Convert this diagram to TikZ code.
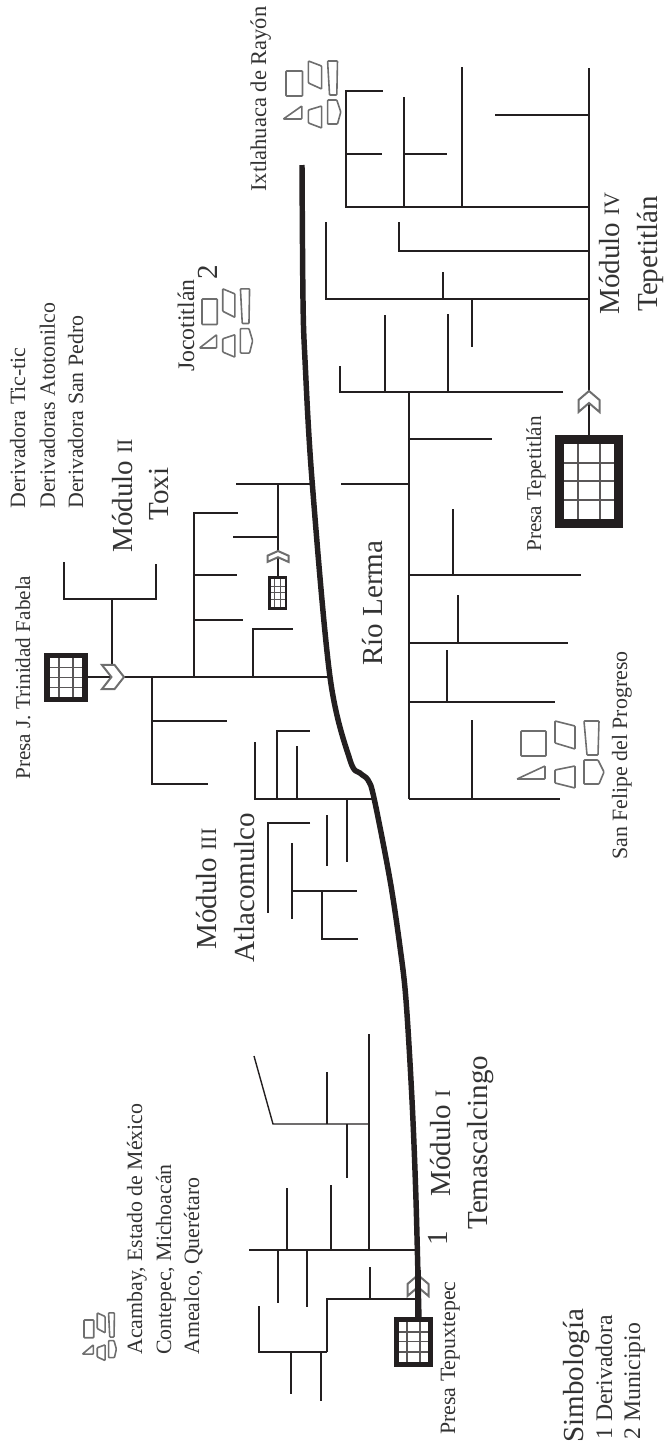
\documentclass[tikz,border=0pt]{standalone}
\usepackage{fontspec}
\setmainfont{Liberation Serif}
\usetikzlibrary{arrows.meta,positioning,calc}
\definecolor{ink}{HTML}{231F20}
\definecolor{tinta}{HTML}{333333}
\definecolor{gris}{HTML}{6E6E6E}
\newcommand{\modnum}[1]{{\fontsize{16.5}{17}\selectfont #1}}
\tikzset{
  rio/.style={draw=ink, line width=4.1pt},
  ramal/.style={draw=ink, line width=1.05pt},
  lbl/.style={anchor=base west, rotate=90, inner sep=0pt, text=tinta,
              font=\fontsize{16.4}{18}\selectfont},
  presalbl/.style={lbl, font=\fontsize{15.9}{18}\selectfont},
  simlbl/.style={lbl, font=\fontsize{17.8}{19}\selectfont},
  modlbl/.style={anchor=base west, rotate=90, inner sep=0pt, text=tinta,
                 font=\fontsize{21.8}{24}\selectfont},
  presa/.pic={
    \fill[ink] (0,0) rectangle (68,93);
    \fill[white] (9,9) rectangle (59,84);
    \foreach \vx in {23,45} \fill[ink!75] (\vx-1.3,9) rectangle (\vx+1.3,84);
    \foreach \vy in {28,46,65} \fill[ink!75] (9,\vy-1.3) rectangle (59,\vy+1.3);
  },
  chevron/.pic={
    \filldraw[fill=white, draw=gris, line width=1.5pt, line join=miter]
      (0,0) -- (10.5,9) -- (10.5,21) -- (0,12) -- (-10.5,21) -- (-10.5,9) -- cycle;
  },
  pueblo/.pic={
    \begin{scope}[draw=gris, line width=1.2pt, rounded corners=.6pt]
    \draw (0,0) rectangle (25,25);
    \draw (-4,48) -- (24,35) -- (24,48) -- cycle;
    \draw (34,-10) -- (54,-5) -- (54,18) -- (34,12) -- cycle;
    \draw (34,39) -- (54,35) -- (54,57) -- (34,52) -- cycle;
    \draw (63,-10) -- (78,-10) -- (77,24) -- (66,24) -- cycle;
    \draw (63,29) -- (77,29) -- (83,41) -- (78,53) -- (63,53) -- cycle;
    \end{scope}
  }}
\begin{document}
\begin{tikzpicture}[x=.75pt, y=-.75pt]
\useasboundingbox (0,0) rectangle (665,1450);
% Rio Lerma
\draw[rio] plot[smooth, tension=.55] coordinates {(302,165) (303,300) (305,360) (312,480)
  (330,677) (350,760) (360,773) (368,780) (374,798) (390,880) (400,947) (406,1000)
  (412,1100) (416,1200) (419,1320)};
% modulo I
\draw[ramal] (249,1250) -- (417,1250);
\draw[ramal] (369,1250) -- (369,1034);
\draw[ramal] (369,1124) -- (273,1124) -- (254,1056);
\draw[ramal] (327,1124) -- (327,1072);
\draw[ramal] (347,1124) -- (347,1178);
\draw[ramal] (331,1250) -- (331,1185);
\draw[ramal] (287,1250) -- (287,1188);
\draw[ramal] (278,1250) -- (278,1303);
\draw[ramal] (307,1250) -- (307,1307);
\draw[ramal] (418,1299) -- (327,1299) -- (327,1352);
\draw[ramal] (370,1299) -- (370,1267);
\draw[ramal] (327,1352) -- (259,1352) -- (259,1306);
\draw[ramal] (291,1352) -- (291,1394);
\draw[ramal] (321,1352) -- (321,1401);
% modulo II
\draw[ramal] (88,677) -- (330,677);
\draw[ramal] (112,668) -- (112,599);
\draw[ramal] (64,562) -- (64,599) -- (156,599) -- (156,564);
\draw[ramal] (194,677) -- (194,513) -- (238,513);
\draw[ramal] (194,575) -- (237,575);
\draw[ramal] (194,620) -- (243,620);
\draw[ramal] (253,677) -- (253,629) -- (293,629);
\draw[ramal] (152,677) -- (152,784) -- (208,784);
\draw[ramal] (152,721) -- (227,721);
\draw[ramal] (236,484) -- (312,484);
\draw[ramal] (278,484) -- (278,578);
\draw[ramal] (278,537) -- (233,537);
% modulo III
\draw[ramal] (375,799) -- (255,799) -- (255,742);
\draw[ramal] (277,799) -- (277,731) -- (310,731);
\draw[ramal] (297,799) -- (297,746);
\draw[ramal] (347,799) -- (347,862);
\draw[ramal] (327,815) -- (327,866);
\draw[ramal] (310,823) -- (268,823) -- (268,913);
\draw[ramal] (292,843) -- (292,919);
\draw[ramal] (292,891) -- (357,891);
\draw[ramal] (322,891) -- (322,939) -- (358,939);
% modulo IV
\draw[ramal] (589,68) -- (589,436);
\draw[ramal] (589,115) -- (495,115);
\draw[ramal] (589,207) -- (346,207) -- (346,91) -- (383,91);
\draw[ramal] (346,154) -- (382,154);
\draw[ramal] (404,207) -- (404,97);
\draw[ramal] (404,154) -- (447,154);
\draw[ramal] (462,207) -- (462,67);
\draw[ramal] (589,251) -- (399,251) -- (399,222);
\draw[ramal] (589,299) -- (326,299) -- (326,222);
\draw[ramal] (443,299) -- (443,272);
\draw[ramal] (472,299) -- (472,347);
\draw[ramal] (563,392) -- (340,392) -- (340,366);
\draw[ramal] (385,392) -- (385,315);
\draw[ramal] (448,392) -- (448,314);
\draw[ramal] (409,392) -- (409,799);
\draw[ramal] (409,439) -- (492,439);
\draw[ramal] (341,484) -- (409,484);
\draw[ramal] (409,575) -- (581,575);
\draw[ramal] (453,575) -- (453,509);
\draw[ramal] (409,643) -- (568,643);
\draw[ramal] (458,643) -- (458,595);
\draw[ramal] (409,702) -- (555,702);
\draw[ramal] (447,702) -- (447,650);
\draw[ramal] (409,799) -- (560,799);
\draw[ramal] (472,799) -- (472,720);
% presas y derivadoras
\pic[xscale=.574, yscale=.538] at (394,1317) {presa};
\pic[xscale=.647, yscale=.527] at (44,653) {presa};
\pic[xscale=.28, yscale=.366] at (268,576) {presa};
\pic at (555,435) {presa};
\pic[scale=1] at (418,1275) {chevron};
\pic[rotate=-90, xscale=1.15, yscale=1.05] at (124,677) {chevron};
\pic[yscale=.52] at (278,551) {chevron};
\pic at (589,391) {chevron};
\draw[rio, line width=3.8pt] (418,1270) -- (418,1318);
% municipios
\pic at (521,731) {pueblo};
\pic[xscale=.66, yscale=1] at (286,71) {pueblo};
\pic[xscale=.61, yscale=1.02] at (202,299) {pueblo};
\pic[xscale=.39, yscale=.71] at (84,1320) {pueblo};
% textos
\node[lbl] (tepux) at (455,1435) {Presa Tepuxtepec};
\node[modlbl] (modI) at (450,1197) {Módulo \modnum{I}};
\node[modlbl] (temas) at (487,1230) {Temascalcingo};
\node[modlbl] (uno) at (447,1246) {1};
\node[lbl] (acambay) at (142,1355) {Acambay, Estado de México};
\node[lbl] (contepec) at (171,1355) {Contepec, Michoacán};
\node[lbl] (amealco) at (199,1355) {Amealco, Querétaro};
\node[presalbl] (fabela) at (30,780) {Presa J. Trinidad Fabela};
\node[modlbl] (modII) at (132,553) {Módulo \modnum{II}};
\node[modlbl] (toxi) at (168,521) {Toxi};
\node[lbl] (tictic) at (25,509) {Derivadora Tic-tic};
\node[lbl] (atoto) at (55,509) {Derivadoras Atotonilco};
\node[lbl] (pedro) at (83,509) {Derivadora San Pedro};
\node[simlbl] (joco) at (194,372) {Jocotitlán};
\node[modlbl] (dos) at (217,280) {2};
\node[lbl, font=\fontsize{16.9}{18}\selectfont] (ixtla) at (266,192) {Ixtlahuaca de Rayón};
\node[modlbl] (modIII) at (216,950) {Módulo \modnum{III}};
\node[modlbl] (atla) at (254,963) {Atlacomulco};
\node[modlbl] (lerma) at (382,666) {Río Lerma};
\node[presalbl] (tepet) at (541,552) {Presa Tepetitlán};
\node[lbl] (felipe) at (627,860) {San Felipe del Progreso};
\node[modlbl] (modIV) at (619,315) {Módulo \modnum{IV}};
\node[modlbl] (tepeti) at (657,312) {Tepetitlán};
\node[modlbl] (simbo) at (583,1443) {Simbología};
\node[simlbl] (deriv) at (612,1440) {1 Derivadora};
\node[simlbl] (munic) at (640,1440) {2 Municipio};
\end{tikzpicture}
\end{document}
